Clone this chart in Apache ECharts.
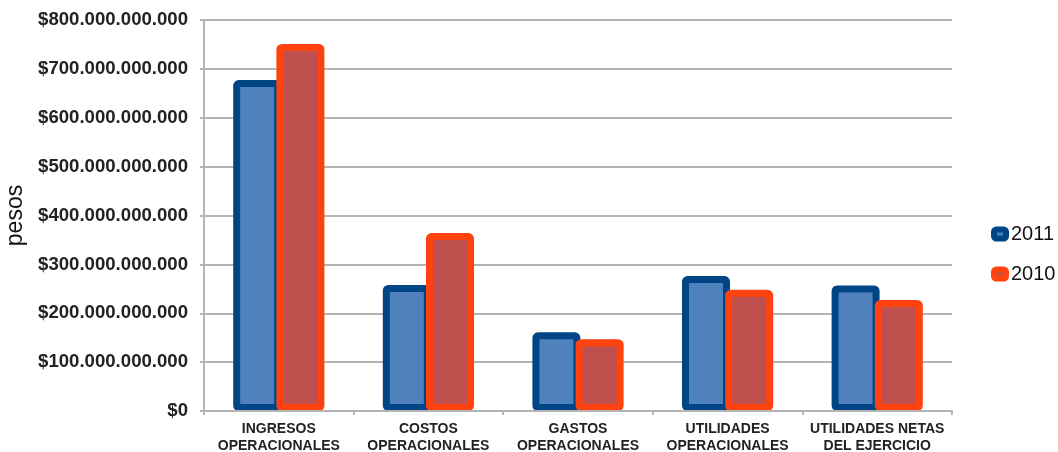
<!DOCTYPE html>
<html>
<head>
<meta charset="utf-8">
<script src="https://cdn.jsdelivr.net/npm/echarts@6/dist/echarts.min.js"></script>
<style>
html,body{margin:0;padding:0;background:#fff;}
#chart{width:1058px;height:452px;}
</style>
</head>
<body>
<div id="chart"></div>
<script>
var categories = ['INGRESOS\nOPERACIONALES', 'COSTOS\nOPERACIONALES', 'GASTOS\nOPERACIONALES', 'UTILIDADES\nOPERACIONALES', 'UTILIDADES NETAS\nDEL EJERCICIO'];
var values2011 = [677e9, 258e9, 161e9, 276e9, 257e9];
var values2010 = [751e9, 364e9, 147e9, 248e9, 227e9];
var yTicks = [0, 100e9, 200e9, 300e9, 400e9, 500e9, 600e9, 700e9, 800e9];

var FONT = "'Liberation Sans', Arial, sans-serif";

function fmt(v) {
  if (v === 0) return '$0';
  var s = String(Math.round(v));
  return '$' + s.replace(/\B(?=(\d{3})+(?!\d))/g, '.');
}

var chart = echarts.init(document.getElementById('chart'));
chart.setOption({
  animation: false,
  backgroundColor: '#ffffff',
  grid: { left: 204, right: 106, top: 20, bottom: 41, containLabel: false, outerBoundsMode: 'none' },
  legend: {
    orient: 'vertical',
    left: 986,
    top: 219,
    itemWidth: 12,
    itemHeight: 9,
    itemGap: 20,
    icon: 'roundRect',
    data: ['2011', '2010'],
    itemStyle: { borderWidth: 6 },
    textStyle: { fontFamily: FONT, fontSize: 20, color: '#111' }
  },
  xAxis: {
    type: 'category',
    data: categories,
    z: 5,
    axisLine: { lineStyle: { color: '#b4b4b4', width: 2 } },
    axisTick: { show: true, length: 4, lineStyle: { color: '#b4b4b4', width: 2 } },
    axisLabel: {
      fontFamily: FONT, fontSize: 14, fontWeight: 'bold', color: '#222',
      lineHeight: 17, margin: 10, interval: 0
    }
  },
  yAxis: {
    type: 'value',
    min: yTicks[0],
    max: yTicks[yTicks.length - 1],
    interval: yTicks[1] - yTicks[0],
    name: 'pesos',
    nameLocation: 'middle',
    nameRotate: 90,
    nameGap: 171,
    nameTextStyle: { fontFamily: FONT, fontSize: 23, color: '#111' },
    axisLine: { show: true, lineStyle: { color: '#b4b4b4', width: 2 } },
    axisTick: { show: true, length: 4, lineStyle: { color: '#b4b4b4', width: 2 } },
    splitLine: { lineStyle: { color: '#b4b4b4', width: 2 } },
    axisLabel: {
      fontFamily: FONT, fontSize: 18.6, fontWeight: 'bold', color: '#222',
      margin: 16, formatter: fmt
    }
  },
  series: [
    {
      name: '2011', type: 'bar', data: values2011,
      barWidth: 48, barGap: '-10%',
      itemStyle: { color: '#4F81BD', borderColor: '#004586', borderWidth: 7, borderRadius: 2 }
    },
    {
      name: '2010', type: 'bar', data: values2010,
      barWidth: 48, barGap: '-10%',
      itemStyle: { color: '#C0504D', borderColor: '#FF420E', borderWidth: 7, borderRadius: 2 }
    }
  ]
});
</script>
</body>
</html>
